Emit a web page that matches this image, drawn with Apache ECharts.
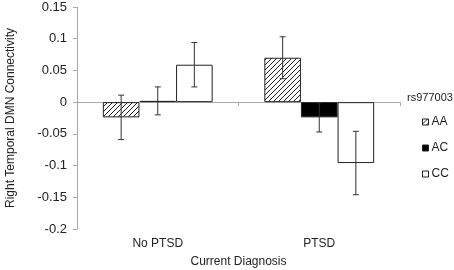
<!DOCTYPE html>
<html>
<head>
<meta charset="utf-8">
<script src="https://cdn.jsdelivr.net/npm/echarts@6/dist/echarts.min.js"></script>
<style>
  html, body { margin: 0; padding: 0; background: #fff; }
  #main { width: 454px; height: 270px; }
</style>
</head>
<body>
<div id="main"></div>
<script>
var categories = ['No PTSD', 'PTSD'];
var genotypes = ['AA', 'AC', 'CC'];
var aaValues = [-0.024, 0.070];
var acValues = [0.002, -0.024];
var ccValues = [0.059, -0.096];
var aaErr = [0.035, 0.033];
var acErr = [0.022, 0.023];
var ccErr = [0.035, 0.050];
var yTicks = { min: -0.2, max: 0.15, step: 0.05 };

// hatch fill for AA
function hatch() {
    var c = document.createElement('canvas');
    c.width = 5; c.height = 5;
    var ctx = c.getContext('2d');
    ctx.fillStyle = '#fff';
    ctx.fillRect(0, 0, 5, 5);
    ctx.strokeStyle = '#222';
    ctx.lineWidth = 1;
    ctx.beginPath();
    ctx.moveTo(-1, 6); ctx.lineTo(6, -1);
    ctx.moveTo(-1, 1); ctx.lineTo(1, -1);
    ctx.moveTo(4, 6); ctx.lineTo(6, 4);
    ctx.stroke();
    return c;
}

var chart = echarts.init(document.getElementById('main'));
var gapPct = 0.32;
var values = [aaValues, acValues, ccValues];
var errs = [aaErr, acErr, ccErr];
var fills = [{ image: hatch(), repeat: 'repeat' }, '#000', '#fff'];

var errData = [];
for (var s = 0; s < 3; s++) {
    for (var i = 0; i < categories.length; i++) {
        errData.push([i, values[s][i] - errs[s][i], values[s][i] + errs[s][i], s]);
    }
}

var series = genotypes.map(function (g, s) {
    return {
        name: g,
        type: 'bar',
        barGap: '0%',
        barCategoryGap: (gapPct * 100) + '%',
        itemStyle: { color: fills[s], borderColor: '#222', borderWidth: 1 },
        data: values[s]
    };
});

series.push({
    type: 'custom',
    name: 'err',
    z: 10,
    renderItem: function (params, api) {
        var band = api.size([1, 0])[0];
        var bw = band * (1 - gapPct) / 3;
        var cx = api.coord([api.value(0), 0])[0] + (api.value(3) - 1) * bw;
        var lo = api.coord([api.value(0), api.value(1)])[1];
        var hi = api.coord([api.value(0), api.value(2)])[1];
        var st = { stroke: '#333', lineWidth: 1 };
        return {
            type: 'group',
            children: [
                { type: 'line', shape: { x1: cx, y1: lo, x2: cx, y2: hi }, style: st },
                { type: 'line', shape: { x1: cx - 3, y1: lo, x2: cx + 3, y2: lo }, style: st },
                { type: 'line', shape: { x1: cx - 3, y1: hi, x2: cx + 3, y2: hi }, style: st }
            ]
        };
    },
    data: errData
});

var option = {
    animation: false,
    textStyle: { fontFamily: 'Liberation Sans' },
    title: {
        text: 'rs977003',
        left: 402,
        top: 87,
        textStyle: { fontSize: 11, fontWeight: 'normal', color: '#222' }
    },
    legend: {
        orient: 'vertical',
        left: 417,
        top: 111,
        itemWidth: 6,
        itemHeight: 6,
        itemGap: 14,
        icon: 'rect',
        selectedMode: false,
        data: genotypes,
        itemStyle: { borderWidth: 1, borderColor: '#222' },
        textStyle: { fontSize: 12, color: '#222', padding: [0, 0, 0, -2] }
    },
    grid: { left: 77, right: 54, top: 7, bottom: 41, outerBoundsMode: 'none' },
    xAxis: [
        {
            type: 'category',
            data: categories,
            position: 'bottom',
            axisLine: { show: false, onZero: false },
            axisTick: { show: false },
            axisLabel: { fontSize: 12, color: '#222', margin: 9 },
            name: 'Current Diagnosis',
            nameLocation: 'middle',
            nameGap: 27,
            nameTextStyle: { fontSize: 12, color: '#222' }
        },
        {
            type: 'category',
            data: categories,
            position: 'bottom',
            axisLine: { show: true, onZero: true, lineStyle: { color: '#aaa', width: 1 } },
            axisTick: { show: true, length: 4, lineStyle: { color: '#aaa' } },
            axisLabel: { show: false }
        }
    ],
    yAxis: {
        type: 'value',
        min: yTicks.min,
        max: yTicks.max,
        interval: yTicks.step,
        splitLine: { show: false },
        axisLine: { show: true, lineStyle: { color: '#aaa' } },
        axisTick: { show: true, length: 4, lineStyle: { color: '#aaa' } },
        axisLabel: {
            fontSize: 13, color: '#222', margin: 10,
            formatter: function (v) { return String(+v.toFixed(2)); }
        },
        name: 'Right Temporal DMN Connectivity',
        nameLocation: 'middle',
        nameGap: 60,
        nameTextStyle: { fontSize: 12, color: '#222' }
    },
    series: series
};

chart.setOption(option);
window.addEventListener('resize', function () { chart.resize(); });
</script>
</body>
</html>
